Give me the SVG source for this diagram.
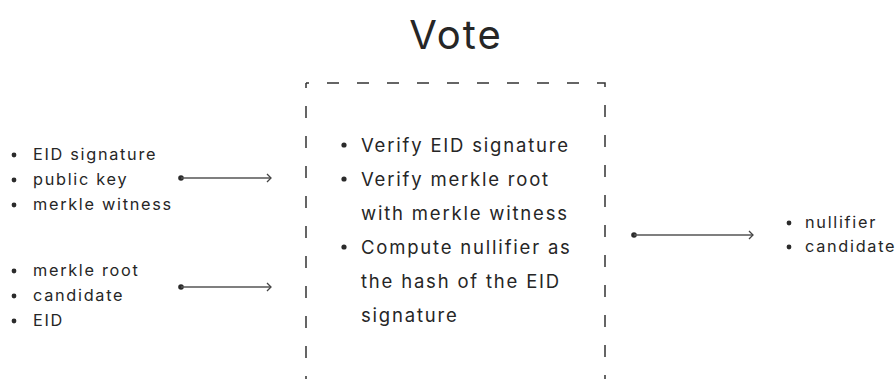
<svg xmlns="http://www.w3.org/2000/svg" width="895" height="379" viewBox="0 0 895 379">
<defs>
<style>
.t{font-family:Inter,"Noto Sans","Liberation Sans",sans-serif;fill:#262626;font-weight:400}
.s{font-size:16.3px;letter-spacing:1.7px}
.m{font-size:18.5px;letter-spacing:1.8px}
.h{font-size:40px;letter-spacing:2px}
.b{fill:#2b2b2b}
.c{stroke:#555;stroke-width:1.5;fill:none}
.box{stroke:#333;stroke-width:1.5;fill:none;stroke-dasharray:12 18}
</style>
<marker id="ah" viewBox="0 0 10 10" refX="9" refY="5" markerWidth="10" markerHeight="10" markerUnits="userSpaceOnUse" orient="auto">
<path d="M5,1 L9,5 L5,9" fill="none" stroke="#444" stroke-width="1.3"/>
</marker>
</defs>
<rect width="895" height="379" fill="#fff"/>
<g id="title"><text class="t h" x="456" y="49" text-anchor="middle">Vote</text></g>
<g id="vote-box">
<path class="box" d="M306,83 H605 V400" stroke-dashoffset="9"/>
<path class="box" d="M306,83 V400" stroke-dashoffset="7"/>
<circle class="b" cx="344" cy="145" r="2.6"/>
<circle class="b" cx="344" cy="179" r="2.6"/>
<circle class="b" cx="344" cy="247" r="2.6"/>
<text class="t m" x="361" y="151.5">Verify EID signature</text>
<text class="t m" x="361" y="185.5">Verify merkle root</text>
<text class="t m" x="361" y="219.5">with merkle witness</text>
<text class="t m" x="361" y="253.5">Compute nullifier as</text>
<text class="t m" x="361" y="287.5">the hash of the EID</text>
<text class="t m" x="361" y="321.5">signature</text>
</g>
<g id="inputs1">
<circle class="b" cx="14" cy="155" r="2.4"/>
<circle class="b" cx="14" cy="180" r="2.4"/>
<circle class="b" cx="14" cy="205" r="2.4"/>
<text class="t s" x="33" y="160">EID signature</text>
<text class="t s" x="33" y="185">public key</text>
<text class="t s" x="33" y="210">merkle witness</text>
</g>
<g id="inputs2">
<circle class="b" cx="14" cy="271" r="2.4"/>
<circle class="b" cx="14" cy="296" r="2.4"/>
<circle class="b" cx="14" cy="321" r="2.4"/>
<text class="t s" x="33" y="276">merkle root</text>
<text class="t s" x="33" y="301">candidate</text>
<text class="t s" x="33" y="326">EID</text>
</g>
<g id="outputs">
<circle class="b" cx="789" cy="223" r="2.4"/>
<circle class="b" cx="789" cy="247" r="2.4"/>
<text class="t s" x="805" y="228">nullifier</text>
<text class="t s" x="805" y="252">candidate</text>
</g>
<g id="connectors">
<circle class="b" cx="181" cy="178" r="2.8"/>
<path class="c" d="M181,178 H271" marker-end="url(#ah)"/>
<circle class="b" cx="181" cy="287" r="2.8"/>
<path class="c" d="M181,287 H271" marker-end="url(#ah)"/>
<circle class="b" cx="634" cy="235" r="2.8"/>
<path class="c" d="M634,235 H753" marker-end="url(#ah)"/>
</g>
</svg>
